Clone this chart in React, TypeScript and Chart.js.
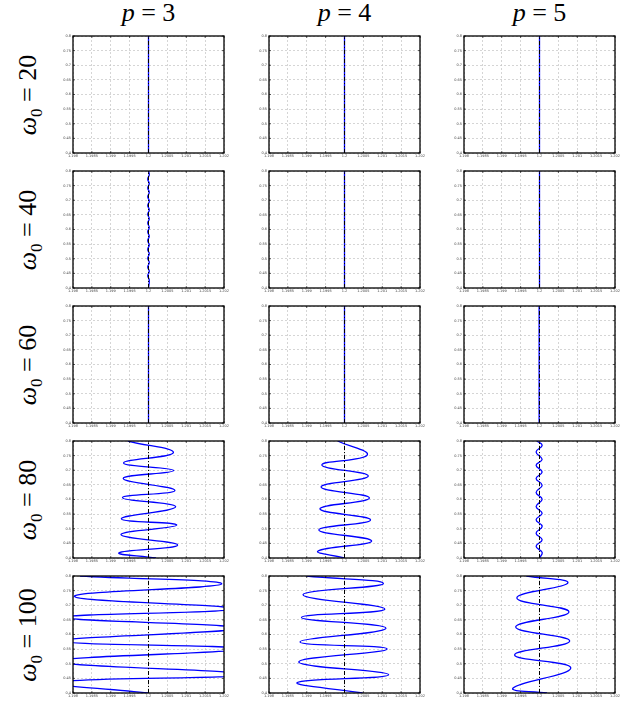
import React, { useEffect, useRef } from 'react';
import { Chart, registerables } from 'chart.js';

Chart.register(...registerables);

// ---------- axis ticks ----------
const X_TICKS = [1.198, 1.1985, 1.199, 1.1995, 1.2, 1.2005, 1.201, 1.2015, 1.202];
const X_TICK_LABELS = ['1.198', '1.1985', '1.199', '1.1995', '1.2', '1.2005', '1.201', '1.2015', '1.202'];
const Y_TICKS = [0.4, 0.45, 0.5, 0.55, 0.6, 0.65, 0.7, 0.75, 0.8];
const Y_TICK_LABELS = ['0.4', '0.45', '0.5', '0.55', '0.6', '0.65', '0.7', '0.75', '0.8'];

// ---------- panel labels ----------
const P_VALUES = ['3', '4', '5'];
const OMEGA_VALUES = ['20', '40', '60', '80', '100'];

// ---------- reference line (black dash-dot) ----------
const REF_X = [1.2, 1.2];
const REF_Y = [0.4, 0.8];

// ---------- blue curves, x as a function of y ----------
// omega0 = 20
const R1C1_X = [1.2, 1.2];
const R1C1_Y = [0.4, 0.8];
const R1C2_X = [1.2, 1.2];
const R1C2_Y = [0.4, 0.8];
const R1C3_X = [1.2, 1.2];
const R1C3_Y = [0.4, 0.8];

// omega0 = 40
const R2C1_X = [1.2, 1.20002, 1.19998, 1.20002, 1.19998, 1.20002, 1.19998, 1.20002, 1.19998, 1.20002, 1.19998, 1.20002, 1.19998, 1.20002, 1.19998, 1.20002, 1.19998, 1.20002, 1.19998, 1.20002, 1.19998, 1.20002, 1.19998, 1.20002, 1.19998, 1.20002, 1.2];
const R2C1_Y = [0.8, 0.787, 0.772, 0.757, 0.742, 0.727, 0.712, 0.697, 0.682, 0.667, 0.652, 0.637, 0.622, 0.607, 0.592, 0.577, 0.562, 0.547, 0.532, 0.517, 0.502, 0.487, 0.472, 0.457, 0.442, 0.427, 0.4];
const R2C2_X = [1.2, 1.2];
const R2C2_Y = [0.4, 0.8];
const R2C3_X = [1.2, 1.2];
const R2C3_Y = [0.4, 0.8];

// omega0 = 60
const R3C1_X = [1.2, 1.2];
const R3C1_Y = [0.4, 0.8];
const R3C2_X = [1.2, 1.2];
const R3C2_Y = [0.4, 0.8];
const R3C3_X = [1.19999, 1.19999];
const R3C3_Y = [0.4, 0.8];

// omega0 = 80
const R4C1_X = [1.19945, 1.20066, 1.19934, 1.20067, 1.19933, 1.2007, 1.19931, 1.20072, 1.19928, 1.20075, 1.19927, 1.20077, 1.19922, 1.2002];
const R4C1_Y = [0.8, 0.76, 0.725, 0.699, 0.672, 0.631, 0.606, 0.575, 0.534, 0.5125, 0.48, 0.444, 0.418, 0.4];
const R4C2_X = [1.19982, 1.2006, 1.1994, 1.20063, 1.19938, 1.20066, 1.19935, 1.20069, 1.19932, 1.20072, 1.1993, 1.2];
const R4C2_Y = [0.8, 0.752, 0.718, 0.68, 0.643, 0.605, 0.568, 0.53, 0.496, 0.458, 0.424, 0.4];
const R4C3_X = [1.19993, 1.20007, 1.19991, 1.20007, 1.19991, 1.20007, 1.19991, 1.20007, 1.19991, 1.20007, 1.19991, 1.20007, 1.19991, 1.20007, 1.19991, 1.20007, 1.19991, 1.20007, 1.2];
const R4C3_Y = [0.8, 0.785, 0.7625, 0.7375, 0.717, 0.694, 0.672, 0.649, 0.624, 0.601, 0.576, 0.553, 0.531, 0.508, 0.485, 0.4625, 0.44, 0.419, 0.4];

// omega0 = 100
const R5C1_X = [1.19818, 1.20194, 1.19804, 1.2022, 1.1978, 1.2023, 1.1977, 1.2024, 1.1976, 1.2025, 1.1975, 1.2];
const R5C1_Y = [0.8, 0.7728, 0.7303, 0.6878, 0.6584, 0.6214, 0.5778, 0.5505, 0.5081, 0.4634, 0.4362, 0.4];
const R5C2_X = [1.19899, 1.20103, 1.1989, 1.20107, 1.19886, 1.2011, 1.19882, 1.20113, 1.19879, 1.20117, 1.19875, 1.20048];
const R5C2_Y = [0.8, 0.7739, 0.7357, 0.6867, 0.6584, 0.6214, 0.5745, 0.5505, 0.5059, 0.4623, 0.4362, 0.4];
const R5C3_X = [1.19965, 1.20075, 1.1994, 1.20078, 1.19937, 1.2008, 1.19934, 1.20083, 1.1993, 1.2002];
const R5C3_Y = [0.8, 0.776, 0.725, 0.677, 0.626, 0.578, 0.53, 0.4855, 0.417, 0.4];

const CURVES_X = [
  [R1C1_X, R1C2_X, R1C3_X],
  [R2C1_X, R2C2_X, R2C3_X],
  [R3C1_X, R3C2_X, R3C3_X],
  [R4C1_X, R4C2_X, R4C3_X],
  [R5C1_X, R5C2_X, R5C3_X],
];
const CURVES_Y = [
  [R1C1_Y, R1C2_Y, R1C3_Y],
  [R2C1_Y, R2C2_Y, R2C3_Y],
  [R3C1_Y, R3C2_Y, R3C3_Y],
  [R4C1_Y, R4C2_Y, R4C3_Y],
  [R5C1_Y, R5C2_Y, R5C3_Y],
];

// ---------- layout ----------
const PLOT_LEFTS = [73, 269, 464];
const PLOT_TOPS = [36, 171, 306, 441, 576];
const PLOT_W = 151;
const PLOT_H = 117;
const Y_AXIS_W = 14;
const X_AXIS_H = 8;
const PAD_T = 3;
const PAD_R = 10;

const toPoints = (xs: number[], ys: number[]) => xs.map((x, i) => ({ x, y: ys[i] }));

const boxPlugin = {
  id: 'box',
  afterDatasetsDraw(chart: any) {
    const { ctx, chartArea: a, scales } = chart;
    ctx.save();
    ctx.strokeStyle = '#000';
    ctx.lineWidth = 0.6;
    ctx.beginPath();
    X_TICKS.forEach((v) => {
      const px = scales.x.getPixelForValue(v);
      ctx.moveTo(px, a.bottom);
      ctx.lineTo(px, a.bottom - 2);
      ctx.moveTo(px, a.top);
      ctx.lineTo(px, a.top + 2);
    });
    Y_TICKS.forEach((v) => {
      const py = scales.y.getPixelForValue(v);
      ctx.moveTo(a.left, py);
      ctx.lineTo(a.left + 2, py);
      ctx.moveTo(a.right, py);
      ctx.lineTo(a.right - 2, py);
    });
    ctx.stroke();
    ctx.lineWidth = 1.3;
    ctx.strokeRect(a.left, a.top, a.right - a.left, a.bottom - a.top);
    ctx.restore();
  },
};

function Panel({ row, col }: { row: number; col: number }) {
  const ref = useRef<HTMLCanvasElement | null>(null);
  useEffect(() => {
    if (!ref.current) return;
    const tickFont = { family: 'DejaVu Sans', size: 3.5 };
    const chart = new Chart(ref.current, {
      type: 'scatter',
      data: {
        datasets: [
          {
            data: toPoints(REF_X, REF_Y),
            showLine: true,
            borderColor: '#000',
            borderWidth: 1,
            borderDash: [4, 2, 1, 2],
            pointRadius: 0,
            tension: 0,
            order: 0,
          },
          {
            data: toPoints(CURVES_X[row][col], CURVES_Y[row][col]),
            showLine: true,
            borderColor: '#0000ff',
            borderWidth: 1.3,
            pointRadius: 0,
            tension: 0.45,
            order: 1,
          },
        ],
      },
      options: {
        animation: false,
        responsive: false,
        events: [],
        layout: { padding: { left: 0, top: PAD_T, right: PAD_R, bottom: 0 } },
        elements: { line: { capBezierPoints: false } },
        plugins: { legend: { display: false }, tooltip: { enabled: false } },
        scales: {
          x: {
            type: 'linear',
            min: 1.198,
            max: 1.202,
            afterBuildTicks: (s: any) => {
              s.ticks = X_TICKS.map((value) => ({ value }));
            },
            afterFit: (s: any) => {
              s.height = X_AXIS_H;
              s.paddingLeft = 0;
              s.paddingRight = 0;
            },
            ticks: {
              autoSkip: false,
              maxRotation: 0,
              padding: 1,
              font: tickFont,
              color: '#444',
              callback: (_v: any, i: number) => X_TICK_LABELS[i],
            },
            grid: { color: '#c4c4c4', lineWidth: 0.7, drawTicks: false },
            border: { display: false, dash: [2, 2] },
          },
          y: {
            type: 'linear',
            min: 0.4,
            max: 0.8,
            afterBuildTicks: (s: any) => {
              s.ticks = Y_TICKS.map((value) => ({ value }));
            },
            afterFit: (s: any) => {
              s.width = Y_AXIS_W;
              s.paddingTop = 0;
              s.paddingBottom = 0;
            },
            ticks: {
              autoSkip: false,
              padding: 2,
              font: tickFont,
              color: '#444',
              callback: (_v: any, i: number) => Y_TICK_LABELS[i],
            },
            grid: { color: '#c4c4c4', lineWidth: 0.7, drawTicks: false },
            border: { display: false, dash: [2, 2] },
          },
        },
      } as any,
      plugins: [boxPlugin],
    });
    return () => chart.destroy();
  }, [row, col]);

  const w = Y_AXIS_W + PLOT_W + PAD_R;
  const h = PAD_T + PLOT_H + X_AXIS_H;
  return (
    <canvas
      ref={ref}
      width={w}
      height={h}
      style={{
        position: 'absolute',
        left: PLOT_LEFTS[col] - Y_AXIS_W,
        top: PLOT_TOPS[row] - PAD_T,
        width: w,
        height: h,
      }}
    />
  );
}

const mathFont = "'Liberation Serif', 'DejaVu Serif', serif";

export default function App() {
  return (
    <div style={{ position: 'absolute', left: 0, top: 0, width: 630, height: 702, background: '#fff', overflow: 'hidden' }}>
      {P_VALUES.map((p, c) => (
        <div
          key={'t' + c}
          style={{
            position: 'absolute',
            left: PLOT_LEFTS[c] + PLOT_W / 2,
            top: -2,
            transform: 'translateX(-50%)',
            fontFamily: mathFont,
            fontSize: 26,
            whiteSpace: 'nowrap',
            color: '#000',
          }}
        >
          <i>p</i> = {p}
        </div>
      ))}
      {OMEGA_VALUES.map((w, r) => (
        <div
          key={'r' + r}
          style={{
            position: 'absolute',
            left: 30,
            top: PLOT_TOPS[r] + PLOT_H / 2,
            transform: 'translate(-50%, -50%) rotate(-90deg)',
            fontFamily: mathFont,
            fontSize: 26,
            whiteSpace: 'nowrap',
            color: '#000',
          }}
        >
          <i>ω</i>
          <sub style={{ fontSize: 17 }}>0</sub> = {w}
        </div>
      ))}
      {OMEGA_VALUES.map((_, r) =>
        P_VALUES.map((__, c) => <Panel key={r + '-' + c} row={r} col={c} />)
      )}
    </div>
  );
}
